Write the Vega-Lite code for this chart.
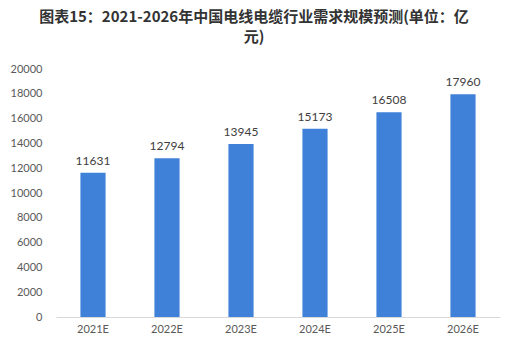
{
  "$schema": "https://vega.github.io/schema/vega-lite/v6.json",
  "width": 444,
  "height": 248,
  "autosize": {"type": "none"},
  "padding": {"left": 56, "top": 69, "right": 8, "bottom": 34},
  "background": "white",
  "title": {
    "text": ["图表15：2021-2026年中国电线电缆行业需求规模预测(单位：亿", "元)"],
    "font": "Noto Sans CJK SC",
    "fontSize": 15,
    "fontWeight": "bold",
    "color": "#333333",
    "anchor": "middle",
    "dx": -24,
    "lineHeight": 20,
    "offset": 18
  },
  "data": {
    "values": [
      {"year": "2021E", "value": 11631},
      {"year": "2022E", "value": 12794},
      {"year": "2023E", "value": 13945},
      {"year": "2024E", "value": 15173},
      {"year": "2025E", "value": 16508},
      {"year": "2026E", "value": 17960}
    ]
  },
  "config": {
    "view": {"stroke": null},
    "axis": {"labelFont": "Lato", "labelFontSize": 11, "labelColor": "#595959"}
  },
  "encoding": {
    "x": {
      "field": "year", "type": "nominal", "sort": null,
      "scale": {"paddingInner": 0.66, "paddingOuter": 0.33},
      "axis": {"title": null, "labelAngle": 0, "ticks": false, "domainColor": "#d9d9d9", "labelPadding": 6, "grid": false}
    },
    "y": {
      "field": "value", "type": "quantitative",
      "scale": {"domain": [0, 20000]},
      "axis": {"title": null, "values": [0,2000,4000,6000,8000,10000,12000,14000,16000,18000,20000], "domain": false, "ticks": false, "grid": false, "labelPadding": 14, "format": "d"}
    }
  },
  "layer": [
    {"mark": {"type": "bar", "color": "#3f80d9"}},
    {"mark": {"type": "text", "dy": -12, "font": "Lato", "fontSize": 12, "color": "#404040"},
     "encoding": {"text": {"field": "value", "type": "quantitative", "format": "d"}}}
  ]
}
